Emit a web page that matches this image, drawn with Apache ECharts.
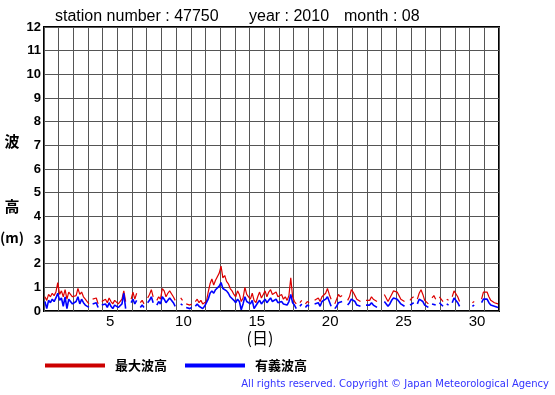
<!DOCTYPE html>
<html><head><meta charset="utf-8">
<script src="https://cdn.jsdelivr.net/npm/echarts@6/dist/echarts.min.js"></script>
<style>html,body{margin:0;padding:0;background:#fff}#c{width:555px;height:395px}</style>
</head><body><div id="c"></div>
<script>
// 3-hourly samples, 8 per day, Aug 1 .. Aug 31 (null = missing)
const maxWave = [
 0.6,0.45,0.7,0.6,0.75,0.65,0.8,1.2,
 0.7,0.85,0.6,0.9,0.5,0.8,0.75,0.6,
 0.6,0.65,0.95,0.7,0.8,0.6,0.5,0.4,
 0.3,null,0.5,0.45,0.55,0.3,null,0.4,
 0.45,0.5,0.35,0.55,0.4,0.3,0.45,0.4,
 0.3,0.35,0.5,0.85,0.4,null,null,0.5,
 0.8,0.5,0.75,null,0.35,0.45,0.3,null,
 0.55,0.7,0.9,0.6,null,0.45,0.6,0.5,
 0.95,0.85,0.6,0.75,0.85,0.8,0.6,0.45,
 null,null,0.55,0.45,null,0.3,0.35,0.25,
 0.3,null,0.4,0.5,0.35,0.45,0.3,0.35,
 0.4,0.8,1.15,1.35,1.1,1.3,1.25,1.6,
 1.9,1.4,1.5,1.25,1.15,0.95,0.85,0.7,
 0.6,0.85,0.7,0.4,0.55,1.0,0.7,0.6,
 0.5,0.75,0.45,0.35,0.6,0.8,0.55,0.7,
 0.85,0.6,0.8,0.9,0.7,0.65,0.8,0.6,
 0.55,0.7,0.5,0.6,0.45,0.65,1.4,0.6,
 0.4,0.3,null,0.35,0.45,null,0.3,0.4,
 0.35,null,null,0.45,0.5,0.55,0.4,0.6,
 0.6,0.75,0.95,0.7,0.5,null,0.3,0.35,
 0.7,0.6,0.65,null,null,0.45,0.6,0.9,
 0.8,0.65,0.5,0.55,0.4,null,null,0.45,
 0.5,0.45,0.6,0.5,0.55,0.4,null,null,
 null,0.7,0.65,0.4,0.55,0.7,0.85,0.9,
 0.8,0.65,0.5,0.55,0.4,null,null,0.45,
 0.55,0.6,null,0.5,0.75,0.9,0.7,0.45,
 0.4,0.3,null,0.55,0.65,0.5,null,0.6,
 0.55,0.4,null,0.5,0.45,null,0.6,0.85,
 0.8,0.6,0.4,null,null,0.3,null,0.35,
 null,0.35,0.4,null,null,null,0.5,0.8,
 0.75,0.8,0.6,0.45,0.5,0.35,0.3,0.3
];
const sigWave = [
 0.4,0.1,0.45,0.35,0.5,0.4,0.55,0.75,
 0.45,0.55,0.2,0.6,0.1,0.5,0.45,0.3,
 0.35,0.4,0.6,0.3,0.5,0.35,0.25,0.2,
 0.15,null,0.3,0.25,0.35,0.15,null,0.25,
 0.25,0.3,0.15,0.35,0.2,0.1,0.25,0.2,
 0.15,0.2,0.3,0.75,0.1,null,null,0.35,
 0.5,0.3,0.45,null,0.15,0.25,0.15,null,
 0.35,0.45,0.6,0.35,null,0.25,0.4,0.3,
 0.6,0.5,0.35,0.45,0.55,0.5,0.35,0.2,
 null,null,0.3,0.25,null,0.15,0.15,0.1,
 0.15,null,0.2,0.3,0.2,0.25,0.1,0.2,
 0.25,0.5,0.75,0.85,0.75,0.9,0.85,1.05,
 1.2,0.95,1.0,0.85,0.75,0.6,0.55,0.45,
 0.35,0.5,0.4,0.05,0.3,0.6,0.4,0.35,
 0.3,0.45,0.1,0.05,0.35,0.45,0.3,0.4,
 0.5,0.35,0.45,0.55,0.4,0.35,0.5,0.35,
 0.3,0.4,0.3,0.35,0.25,0.4,0.7,0.35,
 0.25,0.1,null,0.2,0.3,null,0.15,0.25,
 0.2,null,null,0.3,0.25,0.35,0.2,0.4,
 0.35,0.5,0.6,0.4,0.2,null,0.1,0.2,
 0.35,0.3,0.4,null,null,0.25,0.35,0.5,
 0.5,0.4,0.25,0.3,0.2,null,null,0.25,
 0.3,0.25,0.35,0.25,0.3,0.15,null,null,
 null,0.4,0.35,0.2,0.3,0.45,0.55,0.6,
 0.5,0.4,0.3,0.3,0.2,null,null,0.25,
 0.3,0.35,null,0.3,0.5,0.55,0.4,0.25,
 0.2,0.15,null,0.3,0.35,0.25,null,0.35,
 0.3,0.2,null,0.3,0.25,null,0.35,0.55,
 0.5,0.35,0.2,null,null,0.15,null,0.2,
 null,0.2,0.25,null,null,null,0.35,0.5,
 0.45,0.5,0.35,0.25,0.3,0.2,0.15,0.15
];
const days = Array.from({length:31},(_,i)=>String(i+1));
const samplesPerDay = 8;
const seriesNames = ['最大波高','有義波高'];
const titleParts = ['station number : 47750','year : 2010','month : 08'];

function toXY(arr){ return arr.map((v,i)=>[(i+0.5)/samplesPerDay, v]); }

const chart = echarts.init(document.getElementById('c'));
chart.setOption({
  animation:false,
  grid:{left:44,top:27,right:56,bottom:84,show:true,borderColor:'#000',borderWidth:2,backgroundColor:'transparent'},
  xAxis:[
    {type:'value',min:0,max:31,interval:1,axisLine:{show:false},axisTick:{show:false},axisLabel:{show:false},
     splitLine:{show:true,lineStyle:{color:'#555',width:1}}},
    {type:'category',data:days,boundaryGap:true,position:'bottom',axisLine:{show:false},axisTick:{show:false},
     splitLine:{show:false},
     axisLabel:{interval:(i)=>((i+1)%5===0),color:'#000',fontSize:15,fontFamily:'Liberation Sans',margin:3}}
  ],
  yAxis:{type:'value',min:0,max:12,interval:1,axisLine:{show:false},axisTick:{show:false},
    splitLine:{show:true,lineStyle:{color:'#555',width:1}},
    axisLabel:{color:'#000',fontSize:13,fontWeight:'bold',fontFamily:'Liberation Sans',margin:3}},
  legend:{left:45,top:359,padding:0,itemWidth:60,itemHeight:4,itemGap:18,icon:'rect',
    textStyle:{fontSize:13,fontWeight:'bold',color:'#000',fontFamily:'Noto Sans CJK JP',padding:[0,0,0,5]},
    data:seriesNames},
  series:[
    {name:seriesNames[0],type:'line',xAxisIndex:0,data:toXY(maxWave),showSymbol:false,connectNulls:false,
     lineStyle:{color:'#dd0000',width:1.2},itemStyle:{color:'#cc0000'},z:2},
    {name:seriesNames[1],type:'line',xAxisIndex:0,data:toXY(sigWave),showSymbol:false,connectNulls:false,
     lineStyle:{color:'#0000ff',width:1.6},itemStyle:{color:'#0000ff'},z:3}
  ],
  graphic:[
    {type:'text',left:55,top:9,style:{text:titleParts[0],fontSize:16,fontFamily:'Liberation Sans',fill:'#000'}},
    {type:'text',left:249,top:9,style:{text:titleParts[1],fontSize:16,fontFamily:'Liberation Sans',fill:'#000'}},
    {type:'text',left:344,top:9,style:{text:titleParts[2],fontSize:16,fontFamily:'Liberation Sans',fill:'#000'}},
    {type:'text',x:12,y:141,style:{text:'波',fontSize:15,fontWeight:'bold',fontFamily:'Noto Sans CJK JP',fill:'#000',align:'center',verticalAlign:'middle'}},
    {type:'text',x:12,y:206,style:{text:'高',fontSize:15,fontWeight:'bold',fontFamily:'Noto Sans CJK JP',fill:'#000',align:'center',verticalAlign:'middle'}},
    {type:'text',x:12,y:238,style:{text:'(m)',fontSize:14,fontWeight:'bold',fontFamily:'Noto Sans CJK JP',fill:'#000',align:'center',verticalAlign:'middle'}},
    {type:'text',x:260,y:338,style:{text:'(日)',fontSize:16,fontFamily:'Noto Sans CJK JP',fill:'#000',align:'center',verticalAlign:'middle'}},
    {type:'text',right:6,top:379,style:{text:'All rights reserved. Copyright © Japan Meteorological Agency',fontSize:10,fontFamily:'DejaVu Sans',fill:'#3333ff'}}
  ]
});
</script></body></html>
